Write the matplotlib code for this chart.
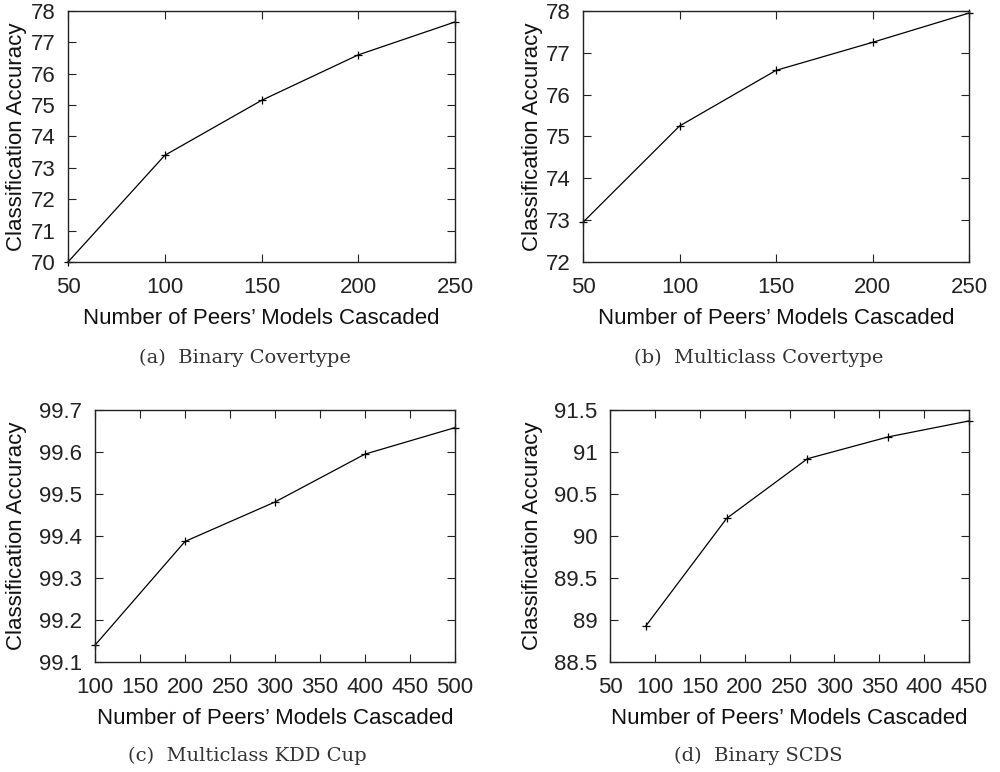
import matplotlib
matplotlib.use("Agg")
import matplotlib.pyplot as plt

# Data
x_a = [50, 100, 150, 200, 250]
y_a = [70.0, 73.4, 75.15, 76.6, 77.65]
x_b = [50, 100, 150, 200, 250]
y_b = [72.95, 75.25, 76.58, 77.25, 77.95]
x_c = [100, 200, 300, 400, 500]
y_c = [99.14, 99.387, 99.481, 99.595, 99.658]
x_d = [90, 180, 270, 360, 450]
y_d = [88.93, 90.21, 90.92, 91.18, 91.37]

captions = ["(a)  Binary Covertype", "(b)  Multiclass Covertype",
            "(c)  Multiclass KDD Cup", "(d)  Binary SCDS"]
xlabel = "Number of Peers\u2019 Models Cascaded"
ylabel = "Classification Accuracy"

plt.rcParams['font.family'] = ['Liberation Sans', 'DejaVu Sans']

fig = plt.figure(figsize=(10, 7.72), dpi=100)

specs = [
    (x_a, y_a, [0.068, 0.6606, 0.387, 0.3252], (50, 250), [50, 100, 150, 200, 250], (70, 78), [70, 71, 72, 73, 74, 75, 76, 77, 78], None),
    (x_b, y_b, [0.583, 0.6606, 0.386, 0.3252], (50, 250), [50, 100, 150, 200, 250], (72, 78), [72, 73, 74, 75, 76, 77, 78], None),
    (x_c, y_c, [0.095, 0.1425, 0.360, 0.3264], (100, 500), list(range(100, 501, 50)), (99.1, 99.7), [99.1, 99.2, 99.3, 99.4, 99.5, 99.6, 99.7], "%.1f"),
    (x_d, y_d, [0.610, 0.1425, 0.359, 0.3264], (50, 450), list(range(50, 451, 50)), (88.5, 91.5), [88.5, 89, 89.5, 90, 90.5, 91, 91.5], "g"),
]

cap_pos = [(0.245, 1 - 358/772), (0.759, 1 - 358/772), (0.247, 1 - 756/772), (0.758, 1 - 756/772)]
xlab_y = [1 - 318/772, 1 - 318/772, 1 - 718/772, 1 - 718/772]
ylab_x = [-0.132, -0.132, -0.217, -0.217]

for i, (xs, ys, rect, xl, xt, yl, yt, fmt) in enumerate(specs):
    ax = fig.add_axes(rect)
    ax.plot(xs, ys, color='black', lw=0.9, marker='+', ms=6, mew=0.9, clip_on=False)
    ax.set_xlim(*xl)
    ax.set_ylim(*yl)
    ax.set_xticks(xt)
    ax.set_yticks(yt)
    if fmt == "%.1f":
        ax.set_yticklabels(["%.1f" % v for v in yt])
    elif fmt == "g":
        ax.set_yticklabels(["%g" % v for v in yt])
    ax.tick_params(direction='in', top=True, right=True, length=6, width=0.8,
                   labelsize=16, colors='#222222', labelcolor='#222222')
    ax.tick_params(axis='x', pad=11)
    ax.tick_params(axis='y', pad=9)
    for s in ax.spines.values():
        s.set_linewidth(1.0)
        s.set_color('#222222')
    ax.set_ylabel(ylabel, fontsize=16, color='#111111', va='center')
    ax.yaxis.set_label_coords(ylab_x[i], 0.5)
    cx = rect[0] + rect[2] / 2
    fig.text(cx, xlab_y[i], xlabel, ha='center', va='center', fontsize=16, color='#111111')
    fig.text(cap_pos[i][0], cap_pos[i][1], captions[i], ha='center', va='center',
             fontsize=14, family=['DejaVu Serif'], color='#333333')

fig.savefig("out.png", dpi=100)
